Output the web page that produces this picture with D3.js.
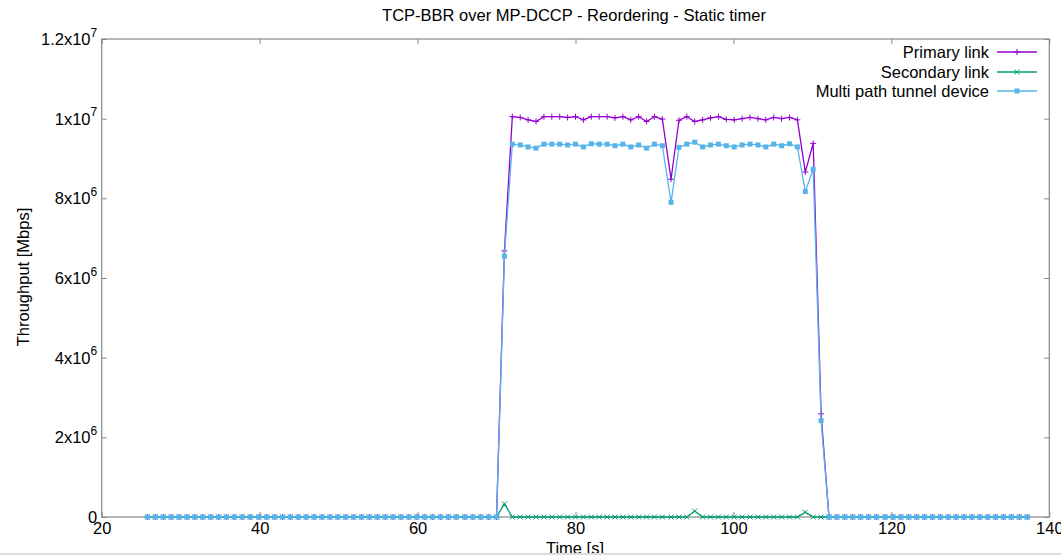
<!DOCTYPE html>
<html>
<head>
<meta charset="utf-8">
<script src="https://cdn.jsdelivr.net/npm/d3@7"></script>
<style>
  html, body { margin: 0; padding: 0; background: #fff; }
  svg { display: block; font-family: "Liberation Sans", Arial, sans-serif; }
</style>
</head>
<body>
<svg id="chart" width="1061" height="555"></svg>
<script>
// ---- data ----
const times = [
  25.8, 26.8, 27.8, 28.8, 29.8, 30.8, 31.8, 32.8, 33.8, 34.8, 35.8, 36.8, 37.8, 38.8,
  39.9, 40.9, 41.9, 42.9, 43.9, 44.9, 45.9, 46.9, 47.9, 48.9, 49.9, 50.9, 51.9, 52.9,
  53.9, 54.9, 55.9, 56.9, 57.9, 58.9, 59.9, 60.9, 61.9, 62.9, 63.9, 64.9,
  66.0, 67.0, 68.0, 69.0, 70.0, 71.0, 72.0, 73.0, 74.0, 75.0, 76.0, 77.0, 78.0, 79.0,
  80.0, 81.0, 82.0, 83.0, 84.0, 85.0, 86.0, 87.0, 88.0, 89.0, 90.0, 91.0,
  92.1, 93.1, 94.1, 95.1, 96.1, 97.1, 98.1, 99.1, 100.1, 101.1, 102.1, 103.1, 104.1,
  105.1, 106.1, 107.1, 108.1, 109.1, 110.1, 111.1, 112.1, 113.1, 114.1, 115.1, 116.1,
  117.1, 118.1,
  119.2, 120.2, 121.2, 122.2, 123.2, 124.2, 125.2, 126.2, 127.2, 128.2, 129.2, 130.2,
  131.2, 132.2, 133.2, 134.2, 135.2, 136.2, 137.2
];

// values in units of 1e6 (multiplied below)
const primaryLink = [
  0,0,0,0,0,0,0,0,0,0, 0,0,0,0,0,0,0,0,0,0, 0,0,0,0,0,0,0,0,0,0,
  0,0,0,0,0,0,0,0,0,0, 0,0,0,0,0,
  6.68,
  10.05, 10.03, 9.97, 9.93, 10.05, 10.05, 10.05, 10.03, 10.05, 9.97,
  10.05, 10.05, 10.05, 10.02, 10.05, 9.97, 10.05, 9.93, 10.05, 9.99,
  8.48,
  9.96, 10.05, 9.93, 9.97, 10.02, 10.05, 9.98, 9.97, 10.00, 10.03,
  10.00, 9.97, 10.03, 10.00, 10.03, 9.97,
  8.66, 9.38, 2.59,
  0,0,0,0,0,0,0,0,0,0, 0,0,0,0,0,0,0,0,0,0, 0,0,0,0,0,0
];
const secondaryLink = [
  0,0,0,0,0,0,0,0,0,0, 0,0,0,0,0,0,0,0,0,0, 0,0,0,0,0,0,0,0,0,0,
  0,0,0,0,0,0,0,0,0,0, 0,0,0,0,0,
  0.33,
  0,0,0,0,0,0,0,0,0,0, 0,0,0,0,0,0,0,0,0,0,
  0,
  0,0, 0.15, 0,0,0,0,0,0,0, 0,0,0,0,0,0,
  0.12, 0, 0,
  0,0,0,0,0,0,0,0,0,0, 0,0,0,0,0,0,0,0,0,0, 0,0,0,0,0,0
];
const multiPath = [
  0,0,0,0,0,0,0,0,0,0, 0,0,0,0,0,0,0,0,0,0, 0,0,0,0,0,0,0,0,0,0,
  0,0,0,0,0,0,0,0,0,0, 0,0,0,0,0,
  6.55,
  9.36, 9.34, 9.29, 9.26, 9.36, 9.36, 9.36, 9.34, 9.36, 9.29,
  9.37, 9.36, 9.36, 9.32, 9.36, 9.29, 9.34, 9.26, 9.36, 9.32,
  7.90,
  9.28, 9.36, 9.41, 9.29, 9.34, 9.36, 9.32, 9.29, 9.34, 9.36,
  9.34, 9.29, 9.36, 9.32, 9.37, 9.29,
  8.17, 8.73, 2.42,
  0,0,0,0,0,0,0,0,0,0, 0,0,0,0,0,0,0,0,0,0, 0,0,0,0,0,0
];

const seriesNames = ["Primary link", "Secondary link", "Multi path tunnel device"];
const xTicks = [20, 40, 60, 80, 100, 120, 140];
const yTicks = [0, 2e6, 4e6, 6e6, 8e6, 1e7, 1.2e7];
const titleText = "TCP-BBR over MP-DCCP - Reordering - Static timer";
const xLabel = "Time [s]";
const yLabel = "Throughput [Mbps]";

// ---- drawing ----
const svg = d3.select("#chart");
const colors = ["#9400D3", "#009E73", "#56B4E9"];
const markers = ["plus", "cross", "square"];
const FS = "16.5px";
const FF = "'Liberation Sans', Arial, sans-serif";

const x = d3.scaleLinear().domain([20, 140]).range([101.7, 1049.3]);
const y = d3.scaleLinear().domain([0, 1.2e7]).range([517, 39]);

const axisColor = "#888";

// mirrored inward ticks
const gx = svg.append("g").attr("transform", `translate(0,${y(0)})`)
  .call(d3.axisBottom(x).tickValues(xTicks).tickSize(-5).tickPadding(5).tickFormat(d3.format("d")));
const gxTop = svg.append("g").attr("transform", `translate(0,${y(1.2e7)})`)
  .call(d3.axisTop(x).tickValues(xTicks).tickSize(-5).tickFormat(""));
const gy = svg.append("g").attr("transform", `translate(${x(20)},0)`)
  .call(d3.axisLeft(y).tickValues(yTicks).tickSize(-5).tickFormat(""));
const gyRight = svg.append("g").attr("transform", `translate(${x(140)},0)`)
  .call(d3.axisRight(y).tickValues(yTicks).tickSize(-5).tickFormat(""));

[gx, gxTop, gy, gyRight].forEach(g => {
  g.select(".domain").remove();
  g.selectAll(".tick line").attr("stroke", axisColor);
});
gx.selectAll(".tick text")
  .attr("fill", "#000")
  .style("font-size", FS)
  .style("font-family", FF);

// y tick labels with superscript exponent
gy.selectAll(".tick").each(function(d) {
  const t = d3.select(this).append("text")
    .attr("x", -4.5).attr("y", 5.5)
    .attr("text-anchor", "end")
    .attr("fill", "#000")
    .style("font-size", FS)
    .style("font-family", FF);
  if (d === 0) { t.text("0"); return; }
  const e = Math.floor(Math.log10(d));
  const m = +(d / Math.pow(10, e)).toFixed(2);
  t.append("tspan").text(m + "x10");
  t.append("tspan").attr("dy", -8.5).style("font-size", "12px").text(e);
});

// border
svg.append("rect")
  .attr("x", x(20)).attr("y", y(1.2e7))
  .attr("width", x(140) - x(20)).attr("height", y(0) - y(1.2e7))
  .attr("fill", "none").attr("stroke", axisColor).attr("stroke-width", 1.2);

// series
const allSeries = [primaryLink, secondaryLink, multiPath].map((vals, k) => ({
  name: seriesNames[k], color: colors[k], marker: markers[k],
  pts: vals.map((v, i) => ({ t: times[i], v: v * 1e6 }))
}));

const line = d3.line().x(d => x(d.t)).y(d => y(d.v));

function drawMarker(sel, type, color) {
  if (type === "plus") {
    sel.append("path").attr("d", "M-3,0H3M0,-3V3")
      .attr("stroke", color).attr("stroke-width", 1).attr("fill", "none");
  } else if (type === "cross") {
    sel.append("path").attr("d", "M-2.5,-2.5L2.5,2.5M-2.5,2.5L2.5,-2.5")
      .attr("stroke", color).attr("stroke-width", 1).attr("fill", "none");
  } else {
    sel.append("rect").attr("x", -2.5).attr("y", -2.5).attr("width", 5).attr("height", 5)
      .attr("fill", color);
  }
}

allSeries.forEach(s => {
  const g = svg.append("g");
  g.append("path").datum(s.pts)
    .attr("d", line).attr("fill", "none")
    .attr("stroke", s.color).attr("stroke-width", 1.3);
  const mg = g.selectAll("g.m").data(s.pts).enter().append("g")
    .attr("transform", d => `translate(${x(d.t)},${y(d.v)})`);
  drawMarker(mg, s.marker, s.color);
});

// legend
const legendRows = [52, 72, 91];
allSeries.forEach((s, k) => {
  const ly = legendRows[k];
  svg.append("text").attr("x", 989).attr("y", ly + 5.5)
    .attr("text-anchor", "end").attr("fill", "#000")
    .style("font-size", FS).text(s.name);
  svg.append("line").attr("x1", 997).attr("x2", 1037).attr("y1", ly).attr("y2", ly)
    .attr("stroke", s.color).attr("stroke-width", 1.3);
  const mg = svg.append("g").attr("transform", `translate(1017,${ly})`);
  drawMarker(mg, s.marker, s.color);
});

// title and axis labels
svg.append("text").attr("x", 574).attr("y", 21).attr("text-anchor", "middle")
  .attr("fill", "#000").style("font-size", FS).text(titleText);
svg.append("text").attr("x", 575).attr("y", 554).attr("text-anchor", "middle")
  .attr("fill", "#000").style("font-size", FS).text(xLabel);
svg.append("text").attr("transform", "translate(29,277) rotate(-90)")
  .attr("text-anchor", "middle").attr("fill", "#000")
  .style("font-size", FS).text(yLabel);

// light bottom strip as in the reference screenshot
svg.append("rect").attr("x", 0).attr("y", 553).attr("width", 1061).attr("height", 2)
  .attr("fill", "#dcdcdc");
</script>
</body>
</html>
